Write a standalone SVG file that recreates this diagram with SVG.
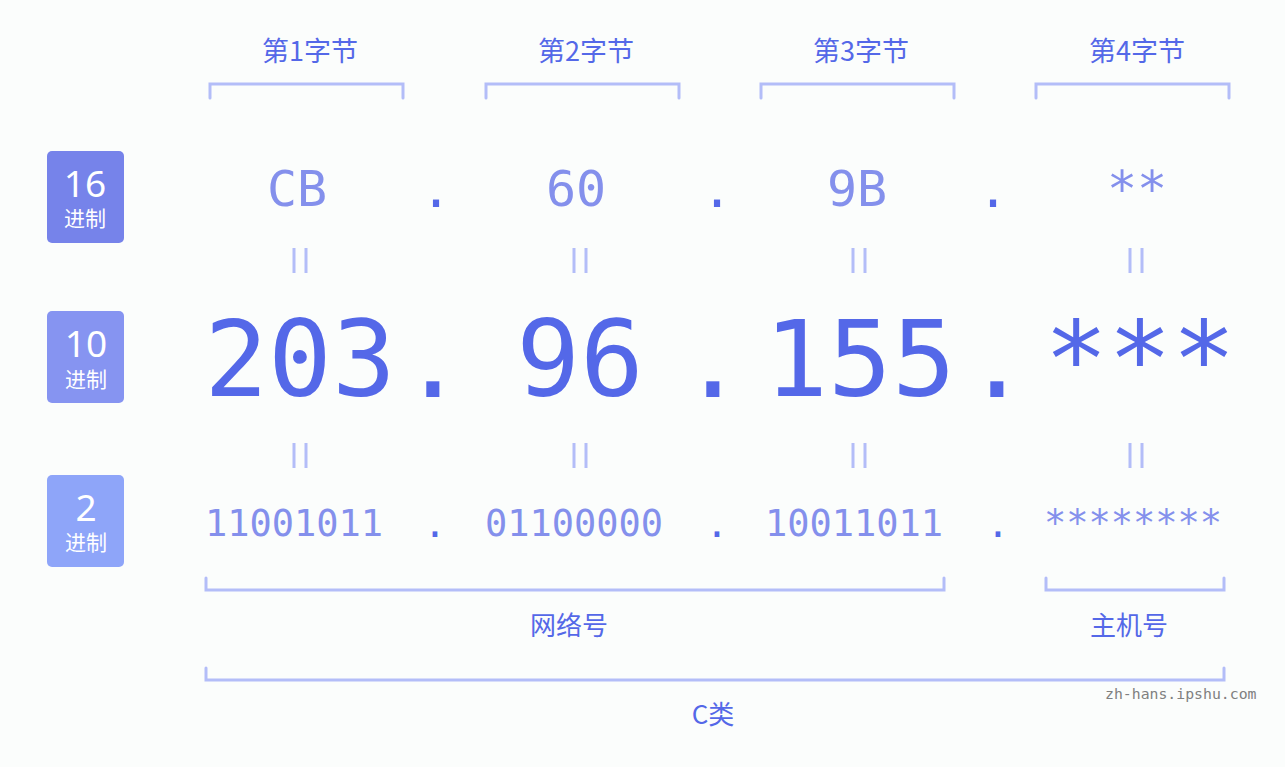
<svg xmlns="http://www.w3.org/2000/svg" width="1285" height="767" viewBox="0 0 1285 767">
<style>
.hdr{font-family:"Noto Sans CJK SC","Noto Sans",sans-serif;font-size:27px;fill:#5468e8;text-anchor:middle}
.lbl{font-family:"Noto Sans CJK SC","Noto Sans",sans-serif;font-size:26px;fill:#5468e8;text-anchor:middle}
.bnum{font-family:"Noto Sans","Noto Sans CJK SC",sans-serif;font-size:37px;fill:#ffffff;text-anchor:middle}
.bsub{font-family:"Noto Sans CJK SC",sans-serif;font-size:21px;fill:#ffffff;text-anchor:middle}
.hex{font-family:"DejaVu Sans Mono",monospace;font-size:50px;fill:#8490ec;text-anchor:middle}
.hexdot{font-family:"DejaVu Sans Mono",monospace;font-size:50px;fill:#5468e8;text-anchor:middle}
.dec{font-family:"DejaVu Sans Mono",monospace;font-size:106px;fill:#5468e8;text-anchor:middle}
.bin{font-family:"DejaVu Sans Mono",monospace;font-size:37px;fill:#8490ec;text-anchor:middle}
.bindot{font-family:"DejaVu Sans Mono",monospace;font-size:38px;fill:#5468e8;text-anchor:middle}
.br{fill:none;stroke:#b3bdf8;stroke-width:3;stroke-linecap:round}
.eq{stroke:#b3bdf8;stroke-width:3}
.wm{font-family:"DejaVu Sans Mono","Liberation Mono",monospace;font-size:14.8px;fill:#808080}
</style>
<rect width="1285" height="767" fill="#fbfdfc"/>

<g id="headers">
<text class="hdr" x="310" y="61">第1字节</text>
<text class="hdr" x="586" y="61">第2字节</text>
<text class="hdr" x="861" y="61">第3字节</text>
<text class="hdr" x="1137" y="61">第4字节</text>
</g>

<g id="connectors">
<path class="br" d="M210 98 V84 H403 V98"/>
<path class="br" d="M486 98 V84 H679 V98"/>
<path class="br" d="M761 98 V84 H954 V98"/>
<path class="br" d="M1036 98 V84 H1229 V98"/>
<path class="br" d="M206 578 V590 H944 V578"/>
<path class="br" d="M1046 578 V590 H1224 V578"/>
<path class="br" d="M206 668 V680 H1224 V668"/>
<g>
<line class="eq" x1="294" y1="248" x2="294" y2="273"/><line class="eq" x1="306" y1="248" x2="306" y2="273"/>
<line class="eq" x1="574" y1="248" x2="574" y2="273"/><line class="eq" x1="586" y1="248" x2="586" y2="273"/>
<line class="eq" x1="853" y1="248" x2="853" y2="273"/><line class="eq" x1="865" y1="248" x2="865" y2="273"/>
<line class="eq" x1="1130" y1="248" x2="1130" y2="273"/><line class="eq" x1="1142" y1="248" x2="1142" y2="273"/>
<line class="eq" x1="294" y1="443" x2="294" y2="468"/><line class="eq" x1="306" y1="443" x2="306" y2="468"/>
<line class="eq" x1="574" y1="443" x2="574" y2="468"/><line class="eq" x1="586" y1="443" x2="586" y2="468"/>
<line class="eq" x1="853" y1="443" x2="853" y2="468"/><line class="eq" x1="865" y1="443" x2="865" y2="468"/>
<line class="eq" x1="1130" y1="443" x2="1130" y2="468"/><line class="eq" x1="1142" y1="443" x2="1142" y2="468"/>
</g>
</g>

<g id="badge-16">
<rect x="47" y="151" width="77" height="92" rx="5" fill="#7683ea"/>
<text class="bnum" x="85" y="197">16</text>
<text class="bsub" x="85" y="226">进制</text>
</g>
<g id="badge-10">
<rect x="47" y="311" width="77" height="92" rx="5" fill="#8694f1"/>
<text class="bnum" x="86" y="357">10</text>
<text class="bsub" x="86" y="387">进制</text>
</g>
<g id="badge-2">
<rect x="47" y="475" width="77" height="92" rx="5" fill="#8ea5f9"/>
<text class="bnum" x="86" y="521">2</text>
<text class="bsub" x="86" y="550">进制</text>
</g>

<g id="row-hex">
<text class="hex" x="297" y="206">CB</text>
<text class="hex" x="576" y="206">60</text>
<text class="hex" x="857" y="206">9B</text>
<text class="hex" x="1137" y="206">**</text>
<text class="hexdot" x="436" y="207">.</text>
<text class="hexdot" x="717" y="207">.</text>
<text class="hexdot" x="993" y="207">.</text>
</g>

<g id="row-dec">
<text class="dec" x="300" y="396">203</text>
<text class="dec" x="580" y="396">96</text>
<text class="dec" x="860" y="396">155</text>
<text class="dec" x="1140" y="396">***</text>
<text class="dec" x="433" y="397">.</text>
<text class="dec" x="713" y="397">.</text>
<text class="dec" x="997" y="397">.</text>
</g>

<g id="row-bin">
<text class="bin" x="294" y="536">11001011</text>
<text class="bin" x="574" y="536">01100000</text>
<text class="bin" x="854" y="536">10011011</text>
<text class="bin" x="1133" y="536">********</text>
<text class="bindot" x="435" y="537">.</text>
<text class="bindot" x="717" y="537">.</text>
<text class="bindot" x="998" y="537">.</text>
</g>

<g id="labels">
<text class="lbl" x="569" y="635">网络号</text>
<text class="lbl" x="1129" y="635">主机号</text>
<text class="lbl" x="713" y="724">C类</text>
</g>

<g id="watermark">
<text class="wm" x="1105" y="699">zh-hans.ipshu.com</text>
</g>
</svg>
